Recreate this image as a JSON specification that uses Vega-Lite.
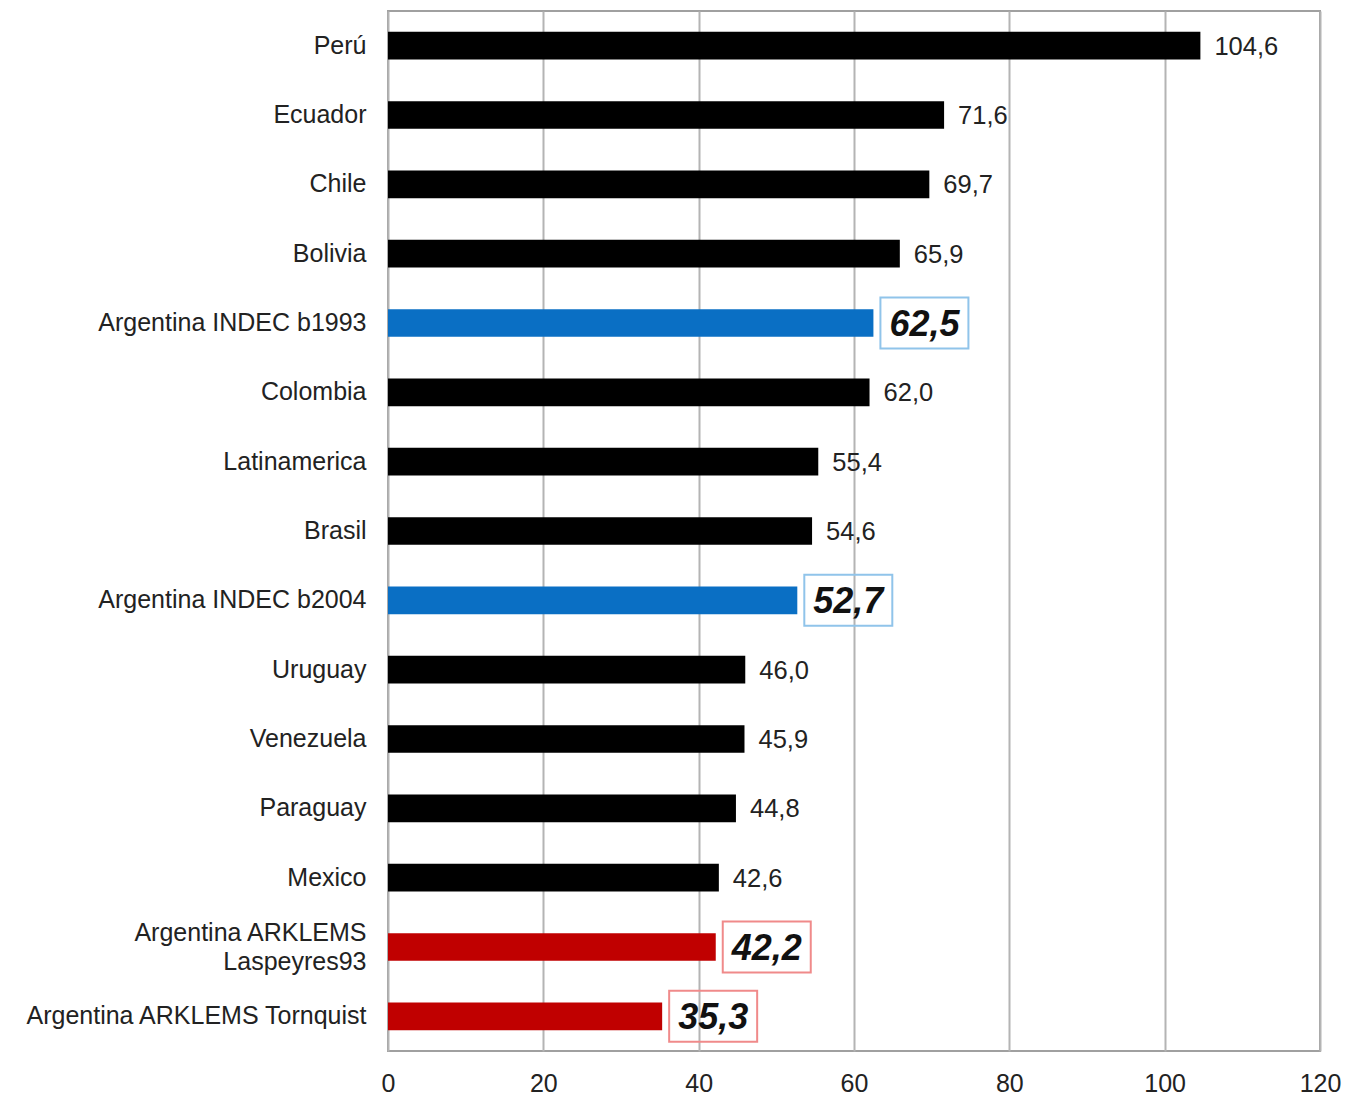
{
  "$schema": "https://vega.github.io/schema/vega-lite/v6.json",
  "autosize": "none",
  "width": 932,
  "height": 1040,
  "padding": {"left": 388, "top": 11, "right": 27, "bottom": 47},
  "background": "white",
  "config": {
    "font": "Liberation Sans",
    "locale": {"number": {"decimal": ",", "thousands": ".", "grouping": [3], "currency": ["", ""]}},
    "view": {"stroke": "#a0a0a0", "strokeWidth": 2}
  },
  "data": {
    "values": [
      {"name": "Perú", "value": 104.6, "group": "other"},
      {"name": "Ecuador", "value": 71.6, "group": "other"},
      {"name": "Chile", "value": 69.7, "group": "other"},
      {"name": "Bolivia", "value": 65.9, "group": "other"},
      {"name": "Argentina INDEC b1993", "value": 62.5, "group": "INDEC"},
      {"name": "Colombia", "value": 62.0, "group": "other"},
      {"name": "Latinamerica", "value": 55.4, "group": "other"},
      {"name": "Brasil", "value": 54.6, "group": "other"},
      {"name": "Argentina INDEC b2004", "value": 52.7, "group": "INDEC"},
      {"name": "Uruguay", "value": 46.0, "group": "other"},
      {"name": "Venezuela", "value": 45.9, "group": "other"},
      {"name": "Paraguay", "value": 44.8, "group": "other"},
      {"name": "Mexico", "value": 42.6, "group": "other"},
      {"name": "Argentina ARKLEMS Laspeyres93", "value": 42.2, "group": "ARKLEMS"},
      {"name": "Argentina ARKLEMS Tornquist", "value": 35.3, "group": "ARKLEMS"}
    ]
  },
  "encoding": {
    "y": {
      "field": "name", "type": "nominal", "sort": null, "title": null,
      "scale": {"paddingInner": 0.6, "paddingOuter": 0.3},
      "axis": {
        "ticks": false, "domain": false, "labelFontSize": 25, "labelColor": "#222",
        "labelPadding": 22, "labelLimit": 400, "labelLineHeight": 29,
        "labelOffset": {"condition": {"test": "datum.value == 'Argentina ARKLEMS Laspeyres93'", "value": -14}, "value": 0},
        "labelExpr": "datum.label == 'Argentina ARKLEMS Laspeyres93' ? ['Argentina ARKLEMS', 'Laspeyres93'] : datum.label"
      }
    },
    "x": {
      "field": "value", "type": "quantitative", "title": null,
      "scale": {"domain": [0, 120], "nice": false},
      "axis": {
        "values": [0, 20, 40, 60, 80, 100, 120], "ticks": false, "domain": false,
        "labelFontSize": 25, "labelColor": "#222", "labelPadding": 20, "labelFlush": false,
        "gridColor": "#b4b4b4", "gridWidth": 2
      }
    }
  },
  "layer": [
    {
      "mark": {"type": "bar"},
      "encoding": {
        "color": {
          "field": "group", "type": "nominal", "legend": null,
          "scale": {"domain": ["other", "INDEC", "ARKLEMS"], "range": ["#000000", "#0a6fc4", "#c00000"]}
        }
      }
    },
    {
      "transform": [{"filter": "datum.group == 'other'"}],
      "mark": {"type": "text", "align": "left", "baseline": "middle", "dx": 14, "dy": 1, "fontSize": 25.5, "color": "#222"},
      "encoding": {"text": {"field": "value", "type": "quantitative", "format": ".1f"}}
    },
    {
      "transform": [{"filter": "datum.group != 'other'"}],
      "mark": {"type": "point", "shape": "M-1,-0.58L1,-0.58L1,0.58L-1,0.58Z", "size": 7744, "filled": false, "strokeWidth": 2, "xOffset": 51, "opacity": 1},
      "encoding": {
        "stroke": {
          "field": "group", "type": "nominal", "legend": null,
          "scale": {"domain": ["INDEC", "ARKLEMS"], "range": ["#90c4ea", "#f08a8a"]}
        }
      }
    },
    {
      "transform": [{"filter": "datum.group != 'other'"}],
      "mark": {"type": "text", "align": "center", "baseline": "middle", "dx": 51, "dy": 2, "fontSize": 36, "fontWeight": "bold", "fontStyle": "italic", "color": "#111"},
      "encoding": {"text": {"field": "value", "type": "quantitative", "format": ".1f"}}
    }
  ]
}
